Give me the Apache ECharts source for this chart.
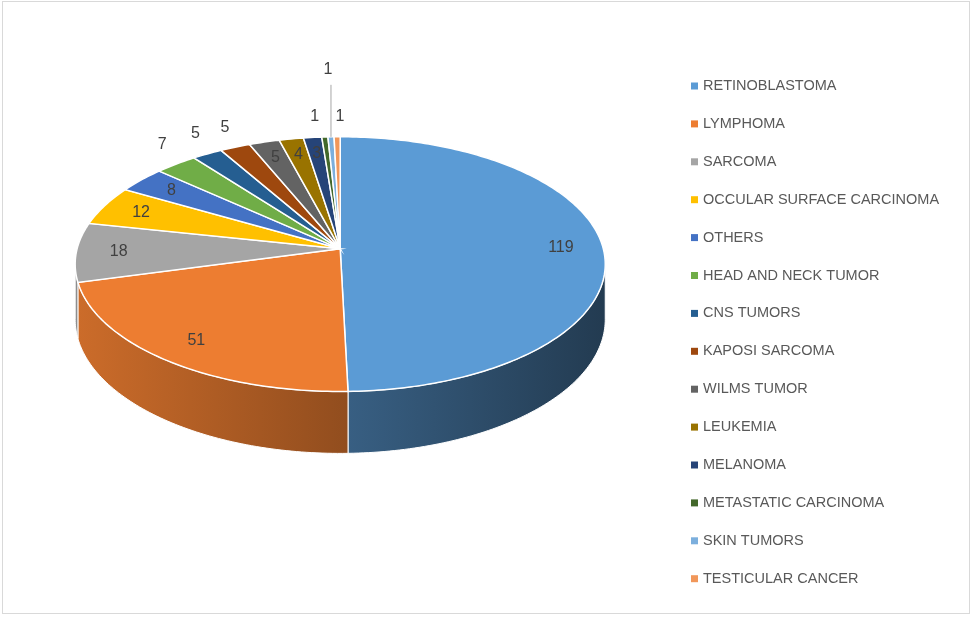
<!DOCTYPE html>
<html>
<head>
<meta charset="utf-8">
<script src="https://cdn.jsdelivr.net/npm/echarts@6/dist/echarts.min.js"></script>
<style>
html, body { margin: 0; padding: 0; background: #fff; }
#frame { position: absolute; left: 2px; top: 1px; width: 966px; height: 611px; border: 1px solid #d9d9d9; }
#main { position: absolute; left: 0; top: 0; width: 972px; height: 619px; }
</style>
</head>
<body>
<div id="frame"></div>
<div id="main"></div>
<script>
var categories = ['RETINOBLASTOMA', 'LYMPHOMA', 'SARCOMA', 'OCCULAR SURFACE CARCINOMA', 'OTHERS',
    'HEAD AND NECK TUMOR', 'CNS TUMORS', 'KAPOSI SARCOMA', 'WILMS TUMOR', 'LEUKEMIA', 'MELANOMA',
    'METASTATIC CARCINOMA', 'SKIN TUMORS', 'TESTICULAR CANCER'];
var counts = [119, 51, 18, 12, 8, 7, 5, 5, 5, 4, 3, 1, 1, 1];
var colors = ['#5b9bd5', '#ed7d31', '#a5a5a5', '#ffc000', '#4472c4', '#70ad47', '#255e91',
    '#9e480e', '#636363', '#997300', '#264478', '#43682b', '#7cafdd', '#f1975a'];
// where each data label goes: in = on the slice, out = just over the rim, lead = high up with a line
var labelPlacement = ['in', 'in', 'in', 'in', 'in', 'out', 'out', 'out', 'in', 'in', 'in', 'out', 'lead', 'out'];

var total = counts.reduce(function (a, b) { return a + b; }, 0);
var startFrac = [], endFrac = [];
var acc = 0;
for (var i = 0; i < counts.length; i++) {
    startFrac.push(acc / total);
    acc += counts[i];
    endFrac.push(acc / total);
}

// tilted disc seen with a little perspective
function geom(api) {
    var W = api.getWidth(), H = api.getHeight();
    return { cx: W * 0.35, cy: H * 0.402, a: W * 0.2707, b: H * 0.2028, p: 0.12, h: H * 0.088 };
}
function proj(g, theta, k, drop) {
    var u = k * Math.sin(theta), v = k * Math.cos(theta);
    var d = 1 + g.p * v;
    return [g.cx + g.a * u / d, g.cy - g.b * v / d + (drop ? g.h / d : 0)];
}
function shade(hex, f) {
    var n = parseInt(hex.slice(1), 16);
    var r = Math.round(((n >> 16) & 255) * f), gg = Math.round(((n >> 8) & 255) * f), b = Math.round((n & 255) * f);
    return 'rgb(' + r + ',' + gg + ',' + b + ')';
}

function renderSlice(params, api) {
    var g = geom(api);
    var idx = params.seriesIndex;
    var t0 = api.value(1) * 2 * Math.PI, t1 = api.value(2) * 2 * Math.PI;
    var color = api.visual('color');
    var deg = Math.PI / 180;
    var children = [];

    // top face
    var n = Math.max(2, Math.ceil((t1 - t0) / deg));
    var top = [proj(g, 0, 0, false)];
    for (var s = 0; s <= n; s++) top.push(proj(g, t0 + (t1 - t0) * s / n, 1, false));
    children.push({
        type: 'polygon', z2: 10,
        shape: { points: top },
        style: { fill: color, stroke: '#fff', lineWidth: 1.5 }
    });

    // front wall, only where it faces us
    var sil = Math.acos(-g.p);
    var lo = Math.max(t0, sil), hi = Math.min(t1, 2 * Math.PI - sil);
    if (hi > lo) {
        var m = Math.max(2, Math.ceil((hi - lo) / deg));
        var wall = [];
        for (s = 0; s <= m; s++) wall.push(proj(g, lo + (hi - lo) * s / m, 1, false));
        for (s = m; s >= 0; s--) wall.push(proj(g, lo + (hi - lo) * s / m, 1, true));
        var span = g.a / Math.sqrt(1 - g.p * g.p);
        children.push({
            type: 'polygon', z2: 1,
            shape: { points: wall },
            style: {
                fill: new echarts.graphic.LinearGradient(g.cx - span, 0, g.cx + span, 0, [
                    { offset: 0, color: shade(color, 0.86) },
                    { offset: 1, color: shade(color, 0.38) }
                ], true),
                stroke: '#fff', lineWidth: 1
            }
        });
    }

    // data label
    var mid = (t0 + t1) / 2;
    var place = labelPlacement[idx];
    var font = { fill: '#404040', fontSize: 16, fontFamily: 'Liberation Sans', align: 'center', verticalAlign: 'middle' };
    var lx, ly;
    if (place === 'in') {
        var c = proj(g, mid, 0.84, false);
        lx = c[0]; ly = c[1];
    } else {
        var e = proj(g, mid, 1, false);
        if (place === 'lead') {
            children.push({
                type: 'line', z2: 20,
                shape: { x1: e[0], y1: e[1], x2: e[0], y2: e[1] - 52 },
                style: { stroke: '#a6a6a6', lineWidth: 1 }
            });
            lx = e[0] - 3; ly = e[1] - 67;
        } else {
            lx = e[0] + 16 * Math.sin(mid) - 3;
            if (labelPlacement[idx - 1] === 'lead') lx += 6;
            if (labelPlacement[idx + 1] === 'lead') lx -= 6;
            ly = e[1] - 20;
        }
    }
    children.push({
        type: 'text', z2: 20,
        style: Object.assign({ text: String(api.value(0)), x: lx, y: ly }, font)
    });

    return { type: 'group', children: children };
}

var chart = echarts.init(document.getElementById('main'));
chart.setOption({
    animation: false,
    color: colors,
    legend: {
        orient: 'vertical',
        left: 686,
        top: 73,
        icon: 'rect',
        itemWidth: 7,
        itemHeight: 7,
        itemGap: 21.9,
        selectedMode: false,
        textStyle: { color: '#595959', fontSize: 14.5, fontFamily: 'Liberation Sans', lineHeight: 16 },
        data: categories
    },
    series: categories.map(function (name, i) {
        return {
            type: 'custom',
            name: name,
            coordinateSystem: 'none',
            silent: true,
            renderItem: renderSlice,
            data: [[counts[i], startFrac[i], endFrac[i]]]
        };
    })
});
</script>
</body>
</html>
